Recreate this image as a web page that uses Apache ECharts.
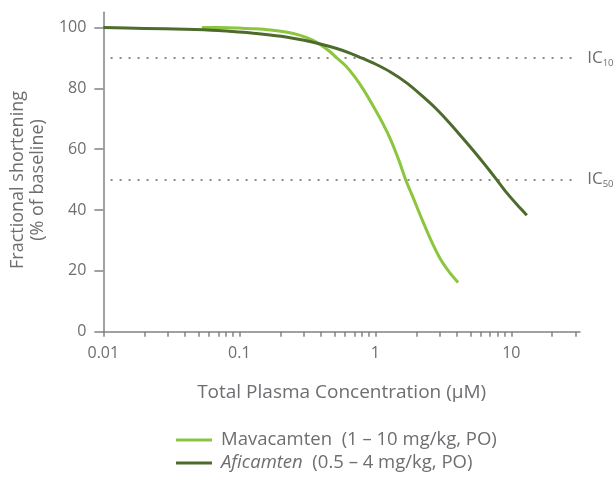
<!DOCTYPE html>
<html>
<head>
<meta charset="utf-8">
<script src="https://cdn.jsdelivr.net/npm/echarts@6/dist/echarts.min.js"></script>
<style>html,body{margin:0;padding:0;background:#fff}#c{width:616px;height:480px}</style>
</head>
<body>
<div id="c"></div>
<script>
// Mavacamten (light green)
const mavaConc = [0.053, 0.07, 0.1, 0.13, 0.17, 0.22, 0.28, 0.34, 0.4, 0.46, 0.52, 0.6, 0.7, 0.82, 1, 1.15, 1.3, 1.5, 1.67, 1.9, 2.2, 2.6, 3.0, 3.5, 4.06];
const mavaFS   = [100, 100, 99.8, 99.6, 99.2, 98.5, 97.4, 96, 94.2, 92.2, 90, 87.6, 84, 79.5, 73, 68, 63, 56, 50, 44, 37, 29.5, 24, 19.6, 16.2];
// Aficamten (dark green)
const afiConc = [0.01, 0.02, 0.04, 0.07, 0.1, 0.15, 0.22, 0.3, 0.4, 0.52, 0.65, 0.79, 1, 1.3, 1.7, 2.2, 2.8, 3.5, 4.4, 5.5, 6.5, 7.8, 9.2, 11, 13];
const afiFS   = [100, 99.7, 99.4, 99, 98.5, 97.8, 96.9, 95.8, 94.5, 93.1, 91.6, 90, 88, 85.3, 81.8, 77.6, 73.3, 68.7, 63.6, 58.5, 54.5, 50, 45.8, 41.8, 38.3];
// axis ticks / labels
const xLabelValues = [0.01, 0.1, 1, 10];
const xTickValues = [0.01,0.02,0.03,0.04,0.05,0.06,0.07,0.08,0.09,0.1,0.2,0.3,0.4,0.5,0.6,0.7,0.8,0.9,1,2,3,4,5,6,7,8,9,10,20,30];
const yTickValues = [0, 20, 40, 60, 80, 100];
const icLevels = [{name: '10', value: 90}, {name: '50', value: 50}];
const legendNames = ['Mavacamten', 'Aficamten'];
const legendText = {Mavacamten: 'Mavacamten  (1 – 10 mg/kg, PO)', Aficamten: '{i|Aficamten}  (0.5 – 4 mg/kg, PO)'};

const grey = '#6d6e71';
const axisGrey = '#808285';
const FONT = 'Open Sans';

const chart = echarts.init(document.getElementById('c'), null, {renderer: 'canvas'});
chart.setOption({
  animation: false,
  textStyle: {fontFamily: FONT},
  grid: {left: 101.7, right: 36, top: 12.3, bottom: 148.3, containLabel: false},
  legend: {
    orient: 'vertical', left: 176, top: 430, padding: 0,
    itemWidth: 36, itemHeight: 3, itemGap: 3,
    icon: 'rect',
    data: legendNames,
    formatter: n => legendText[n],
    textStyle: {color: grey, fontSize: 18.5, fontFamily: FONT, lineHeight: 20, padding: [0,0,0,4],
      rich: {i: {fontStyle: 'italic', color: grey, fontSize: 18.5, fontFamily: FONT, lineHeight: 20}}}
  },
  xAxis: {
    type: 'log', logBase: 10, min: 0.01, max: 32,
    name: 'Total Plasma Concentration (µM)', nameLocation: 'middle', nameGap: 51,
    nameTextStyle: {color: grey, fontSize: 19, fontFamily: FONT},
    axisLine: {lineStyle: {color: axisGrey, width: 1.5}},
    axisTick: {show: true, length: 5, customValues: xTickValues, lineStyle: {color: axisGrey, width: 1.5}},
    axisLabel: {color: grey, fontSize: 16, margin: 14, customValues: xLabelValues, formatter: v => String(v)},
    splitLine: {show: false}, minorTick: {show: false}
  },
  yAxis: {
    type: 'value', min: 0, max: 105,
    name: 'Fractional shortening\n(% of baseline)', nameLocation: 'middle', nameGap: 50,
    nameTextStyle: {color: grey, fontSize: 18, fontFamily: FONT, lineHeight: 20, padding: [0, 16, 0, 0]},
    axisLine: {show: true, lineStyle: {color: axisGrey, width: 1.5}},
    axisTick: {show: true, length: 9, customValues: yTickValues, lineStyle: {color: axisGrey, width: 1.5}},
    axisLabel: {color: grey, fontSize: 16, margin: 17, customValues: yTickValues},
    splitLine: {show: false}
  },
  series: [
    {
      name: 'Mavacamten', type: 'line', smooth: 0.3, showSymbol: false, symbol: 'none', z: 3,
      color: '#8cc63f', lineStyle: {width: 3, color: '#8cc63f'},
      data: mavaConc.map((c, i) => [c, mavaFS[i]]),
      markLine: {
        silent: true, symbol: 'none', z: 1,
        lineStyle: {color: '#8a8a8a', width: 2, type: [2, 7]},
        label: {show: true, position: 'end', distance: 13,
          formatter: p => '{a|IC}{b|' + p.data.icName + '}',
          rich: {a: {fontSize: 17, color: grey, fontFamily: FONT, lineHeight: 20},
                 b: {fontSize: 9.5, color: grey, fontFamily: FONT, verticalAlign: 'bottom', lineHeight: 20}}},
        data: icLevels.map(l => [{coord: [0.0113, l.value], icName: l.name}, {coord: [29, l.value]}])
      }
    },
    {
      name: 'Aficamten', type: 'line', smooth: 0.3, showSymbol: false, symbol: 'none', z: 4,
      color: '#4d6b2c', lineStyle: {width: 3, color: '#4d6b2c'},
      data: afiConc.map((c, i) => [c, afiFS[i]])
    }
  ]
});
</script>
</body>
</html>
